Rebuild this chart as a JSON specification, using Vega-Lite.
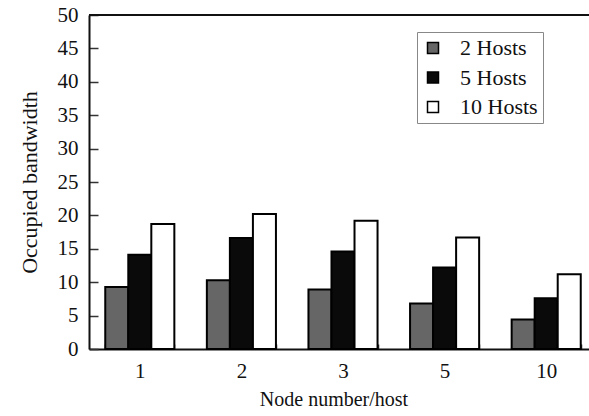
{
  "$schema": "https://vega.github.io/schema/vega-lite/v6.json",
  "width": 500,
  "height": 334,
  "autosize": {"type": "none"},
  "padding": {"left": 89, "top": 15, "right": 0, "bottom": 67},
  "background": "white",
  "config": {
    "view": {"stroke": null},
    "font": "Liberation Serif",
    "axis": {"labelFont": "Liberation Serif", "titleFont": "Liberation Serif", "labelColor": "#111", "titleColor": "#111", "titleFontWeight": "normal"},
    "axisY": {
      "titleFontSize": 22,
      "titlePadding": 16,
      "labelFontSize": 21,
      "labelOverlap": false,
      "grid": false,
      "tickSize": -9,
      "tickColor": "#333",
      "tickWidth": 1.5,
      "labelPadding": 20,
      "domainColor": "#111",
      "domainWidth": 2
    }
  },
  "data": {
    "values": [
      {"node": "1", "hosts": "2 Hosts", "value": 9.3},
      {"node": "1", "hosts": "5 Hosts", "value": 14.1},
      {"node": "1", "hosts": "10 Hosts", "value": 18.7},
      {"node": "2", "hosts": "2 Hosts", "value": 10.3},
      {"node": "2", "hosts": "5 Hosts", "value": 16.6},
      {"node": "2", "hosts": "10 Hosts", "value": 20.2},
      {"node": "3", "hosts": "2 Hosts", "value": 8.9},
      {"node": "3", "hosts": "5 Hosts", "value": 14.6},
      {"node": "3", "hosts": "10 Hosts", "value": 19.2},
      {"node": "5", "hosts": "2 Hosts", "value": 6.8},
      {"node": "5", "hosts": "5 Hosts", "value": 12.2},
      {"node": "5", "hosts": "10 Hosts", "value": 16.7},
      {"node": "10", "hosts": "2 Hosts", "value": 4.4},
      {"node": "10", "hosts": "5 Hosts", "value": 7.6},
      {"node": "10", "hosts": "10 Hosts", "value": 11.2}
    ]
  },
  "layer": [
    {
      "mark": {"type": "bar", "stroke": "black", "strokeWidth": 2},
      "encoding": {
        "x": {
          "field": "node",
          "type": "ordinal",
          "sort": ["1", "2", "3", "5", "10"],
          "scale": {"range": [0, 508], "paddingInner": 0.32, "paddingOuter": 0.16},
          "axis": {
            "title": "Node number/host",
            "titleFontSize": 20,
            "titleX": 244.5,
            "titlePadding": 8,
            "labelFontSize": 21,
            "labelAngle": 0,
            "labelPadding": 16,
            "tickBand": "extent",
            "tickSize": -5,
            "tickColor": "#333",
            "tickWidth": 1.5,
            "domainColor": "#111",
            "domainWidth": 2
          }
        },
        "xOffset": {"field": "hosts", "type": "nominal", "sort": ["2 Hosts", "5 Hosts", "10 Hosts"]},
        "y": {
          "field": "value",
          "type": "quantitative",
          "title": "Occupied bandwidth",
          "scale": {"domain": [0, 50], "nice": false},
          "axis": {"title": "Occupied bandwidth", "values": [0, 5, 10, 15, 20, 25, 30, 35, 40, 45, 50]}
        },
        "fill": {
          "field": "hosts",
          "type": "nominal",
          "sort": ["2 Hosts", "5 Hosts", "10 Hosts"],
          "scale": {"domain": ["2 Hosts", "5 Hosts", "10 Hosts"], "range": ["#666666", "#0a0a0a", "#ffffff"]},
          "legend": {
            "title": null,
            "orient": "none",
            "legendX": 328,
            "legendY": 17,
            "strokeColor": "#888",
            "padding": 5,
            "rowPadding": 7.5,
            "symbolType": "square",
            "symbolSize": 121,
            "symbolStrokeColor": "black",
            "symbolStrokeWidth": 1.5,
            "labelFont": "Liberation Serif",
            "labelFontSize": 22,
            "labelColor": "#111",
            "labelOffset": 16,
            "labelLimit": 300
          }
        }
      }
    },
    {
      "mark": {"type": "rule", "stroke": "#111", "strokeWidth": 2},
      "encoding": {"y": {"datum": 50, "axis": {"title": "Occupied bandwidth", "values": [0, 5, 10, 15, 20, 25, 30, 35, 40, 45, 50]}}}
    }
  ]
}
